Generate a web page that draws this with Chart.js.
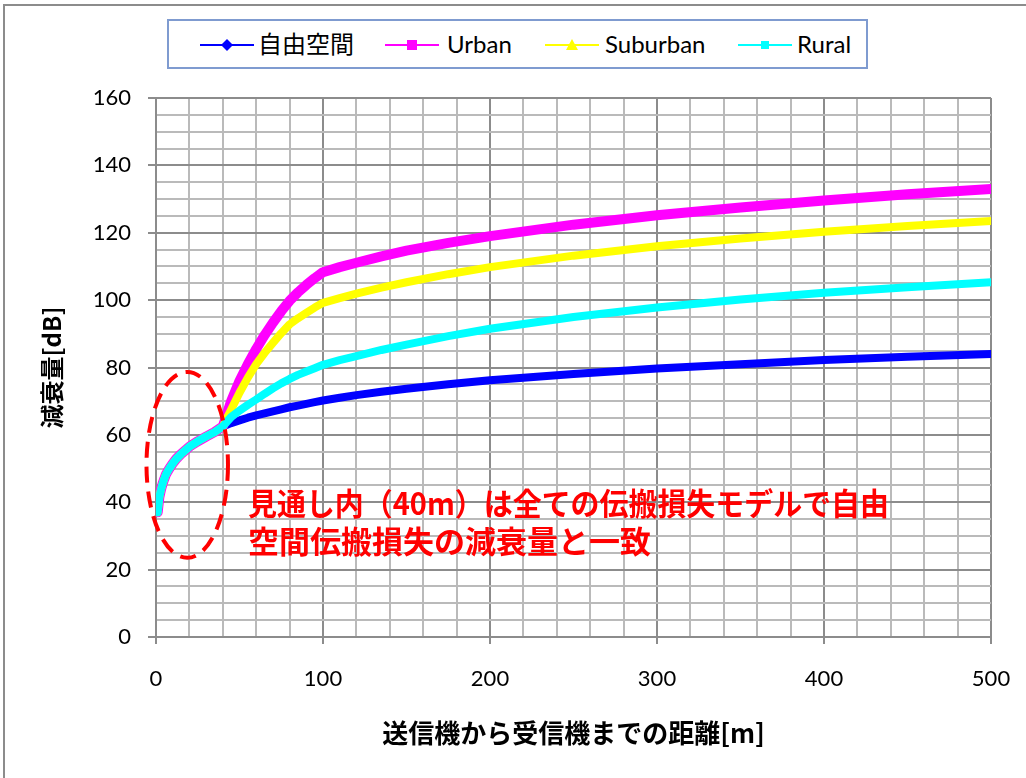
<!DOCTYPE html>
<html>
<head>
<meta charset="utf-8">
<script src="https://cdn.jsdelivr.net/npm/chart.js@4/dist/chart.umd.min.js"></script>
<style>
  html, body { margin: 0; padding: 0; background: #fff; }
  #wrap { position: relative; width: 1026px; height: 778px; overflow: hidden; background: #fff; }
  #frame { position: absolute; left: 3px; top: 4px; width: 1100px; height: 900px; border: 2px solid #8c8c8c; box-sizing: border-box; }
  canvas { position: absolute; left: 0; top: 0; }
  #legend { position: absolute; left: 167px; top: 19px; width: 701px; height: 50px; border: 2px solid #7f9bd0; box-sizing: border-box; background: #fff; }
  .item { position: absolute; top: 0; height: 46px; line-height: 46px; font-family: Lato, "Noto Sans CJK JP", sans-serif; font-size: 24px; color: #000; white-space: nowrap; }
  .item svg { position: absolute; top: 17px; }
  .item span { position: absolute; top: 0; }
</style>
</head>
<body>
<div id="wrap">
  <div id="frame"></div>
  <canvas id="c" width="1026" height="778"></canvas>
  <div id="legend"></div>
</div>
<script>
// ---- data ----
const distances = [1, 2, 3, 4, 5, 6, 8, 10, 12, 15, 20, 25, 30, 35, 40, 45, 50, 55, 60, 65, 70, 75, 80, 85, 90, 95, 100, 110, 120, 135, 150, 175, 200, 250, 300, 350, 400, 450, 500];
const seriesNames = ["自由空間", "Urban", "Suburban", "Rural"];
const freeSpace = [37, 41.5, 43.8, 45.6, 47, 48.3, 50, 51.5, 52.8, 54.3, 56.5, 58.1, 59.5, 60.8, 62.5, 63.5, 64.3, 65.1, 65.8, 66.4, 67, 67.6, 68.2, 68.7, 69.2, 69.7, 70.2, 71, 71.8, 72.8, 73.7, 75, 76.2, 78.1, 79.7, 81, 82.2, 83.2, 84];
const urban = [37, 41.5, 43.8, 45.6, 47, 48.3, 50, 51.5, 52.8, 54.3, 56.5, 58.1, 59.5, 60.8, 62.5, 70, 76, 81, 85.5, 89.6, 93.3, 96.7, 99.8, 102.3, 104.5, 106.5, 108.3, 109.8, 111.1, 113, 114.7, 117, 119, 122.4, 125.2, 127.5, 129.6, 131.4, 133];
const suburban = [37, 41.5, 43.8, 45.6, 47, 48.3, 50, 51.5, 52.8, 54.3, 56.5, 58.1, 59.5, 60.8, 62.5, 67.5, 72.5, 77, 81, 84.3, 87.3, 90.2, 92.8, 94.6, 96.2, 97.8, 99.2, 100.6, 101.9, 103.7, 105.3, 107.7, 109.8, 113.2, 116, 118.3, 120.3, 122, 123.5];
const rural = [37, 41.5, 43.8, 45.6, 47, 48.3, 50, 51.5, 52.8, 54.3, 56.5, 58.1, 59.5, 60.8, 62.5, 65.3, 67.2, 68.9, 70.5, 72.2, 73.8, 75.3, 76.6, 77.8, 78.8, 79.8, 80.8, 82.2, 83.4, 85.2, 86.8, 89.3, 91.5, 95, 97.8, 100.2, 102.2, 103.8, 105.3];
const xTickLabels = [0, 100, 200, 300, 400, 500];
const yTickLabels = [0, 20, 40, 60, 80, 100, 120, 140, 160];
const xAxisTitle = "送信機から受信機までの距離[m]";
const yAxisTitle = "減衰量[dB]";
const noteLines = ["見通し内（40m）は全ての伝搬損失モデルで自由", "空間伝搬損失の減衰量と一致"];

const colors = ["#0000ff", "#ff00ff", "#ffff00", "#00ffff"];
const widths = [8, 10, 8, 8];
const allSeries = [freeSpace, urban, suburban, rural];

const MAJOR = "#8c8c8c", MINOR = "#bababa";
const TICKFONT = { family: 'Lato, "Noto Sans CJK JP", sans-serif', size: 22 };

const datasets = allSeries.map((vals, i) => ({
  label: seriesNames[i],
  data: distances.map((d, k) => ({ x: d, y: vals[k] })),
  borderColor: colors[i],
  backgroundColor: colors[i],
  borderWidth: widths[i],
  borderJoinStyle: 'round',
  borderCapStyle: 'round',
  pointRadius: 0,
  tension: 0,
  order: 4 - i,
  fill: false
}));

const notePlugin = {
  id: 'note',
  afterDatasetsDraw(chart) {
    const { ctx, scales: { x, y } } = chart;
    const cx = x.getPixelForValue(18.7), cy = y.getPixelForValue(51.1);
    const rx = x.getPixelForValue(18.7 + 24.4) - cx;
    const ry = cy - y.getPixelForValue(51.1 + 27.6);
    ctx.save();
    ctx.strokeStyle = "#ff0000";
    ctx.lineWidth = 4;
    ctx.setLineDash([16, 9]);
    ctx.beginPath();
    ctx.ellipse(cx, cy, rx, ry, 0, 0, Math.PI * 2);
    ctx.stroke();
    ctx.restore();
  },
  afterDraw(chart) {
    const { ctx } = chart;
    ctx.save();
    ctx.fillStyle = "#ff0000";
    ctx.font = 'bold 31px "Noto Sans CJK JP", sans-serif';
    ctx.textBaseline = 'middle';
    ctx.textAlign = 'left';
    ctx.fillText(noteLines[0], 248, 503, 641);
    ctx.fillText(noteLines[1], 248, 541, 408);
    ctx.restore();
  }
};

new Chart(document.getElementById('c'), {
  type: 'line',
  data: { datasets },
  plugins: [notePlugin],
  options: {
    responsive: false,
    animation: false,
    devicePixelRatio: 1,
    layout: { padding: { left: 10, right: 35, top: 98, bottom: 0 } },
    plugins: { legend: { display: false }, tooltip: { enabled: false } },
    scales: {
      x: {
        type: 'linear', min: 0, max: 500,
        afterFit(s) { s.height = 141; s.paddingRight = 0; s.paddingLeft = 0; },
        ticks: {
          stepSize: 20, autoSkip: false, maxRotation: 0, maxTicksLimit: 200,
          padding: 22, color: '#000', font: TICKFONT,
          callback: v => xTickLabels.includes(v) ? String(v) : ''
        },
        grid: {
          color: c => (c.tick && c.tick.value % 100 === 0) ? MAJOR : MINOR,
          lineWidth: 2,
          tickLength: 7,
          tickColor: c => (c.tick && c.tick.value % 100 === 0) ? MAJOR : 'rgba(0,0,0,0)'
        },
        border: { color: MAJOR, width: 2 },
        title: {
          display: true, text: xAxisTitle, color: '#000',
          font: { family: '"Noto Sans CJK JP", sans-serif', size: 26, weight: 'bold' },
          padding: { top: 0, bottom: 29 }
        }
      },
      y: {
        type: 'linear', min: 0, max: 160,
        afterFit(s) { s.width = 146; },
        ticks: {
          stepSize: 5, autoSkip: false, maxTicksLimit: 200,
          padding: 17, color: '#000', font: TICKFONT,
          callback: v => yTickLabels.includes(v) ? String(v) : ''
        },
        grid: {
          color: c => (c.tick && c.tick.value % 20 === 0) ? MAJOR : MINOR,
          lineWidth: 2,
          tickLength: 8,
          tickColor: c => (c.tick && c.tick.value % 20 === 0) ? MAJOR : 'rgba(0,0,0,0)'
        },
        border: { color: MAJOR, width: 2 },
        title: {
          display: true, text: yAxisTitle, color: '#000',
          font: { family: '"Noto Sans CJK JP", sans-serif', size: 24, weight: 'bold' },
          padding: { top: 27, bottom: 0 }
        }
      }
    }
  }
});

// ---- HTML legend (line + marker, like the original) ----
const legendPos = [{ line: 31, text: 89 }, { line: 216, text: 278 }, { line: 376, text: 436 }, { line: 569, text: 628 }];
const markers = [
  c => `<polygon points="27,1 33,7 27,13 21,7" fill="${c}"/>`,
  c => `<rect x="22" y="2" width="10" height="10" fill="${c}"/>`,
  c => `<polygon points="27,1 33,12 21,12" fill="${c}"/>`,
  c => `<rect x="23" y="3" width="8" height="8" fill="${c}"/>`
];
const lg = document.getElementById('legend');
seriesNames.forEach((name, i) => {
  const p = legendPos[i];
  const it = document.createElement('div');
  it.className = 'item';
  it.style.left = p.line + 'px';
  it.style.width = (p.text - p.line + 120) + 'px';
  it.innerHTML = `<svg width="54" height="14" style="left:0"><line x1="0" y1="7" x2="54" y2="7" stroke="${colors[i]}" stroke-width="2"/>${markers[i](colors[i])}</svg><span style="left:${p.text - p.line}px">${name}</span>`;
  lg.appendChild(it);
});
</script>
</body>
</html>
